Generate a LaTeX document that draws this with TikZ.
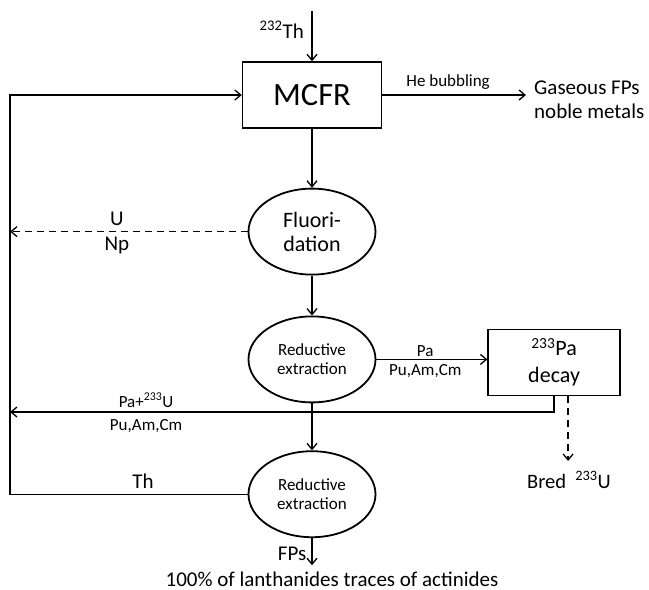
\documentclass[tikz,border=0pt]{standalone}
\usepackage{fontspec}
\setmainfont{Carlito}
\usetikzlibrary{arrows.meta,positioning,shapes.geometric}

\tikzset{
  reactor/.style={draw, rectangle, line width=1.4pt, minimum width=139pt, minimum height=66pt, inner sep=0pt, align=center},
  unit/.style={draw, ellipse, line width=1.8pt, minimum width=127pt, minimum height=86pt, inner sep=0pt, align=center},
  flow/.style={->, line width=1.3pt},
  dsh/.style={dash pattern=on 7pt off 5pt},
  lbl/.style={font=\fontsize{21}{24}\selectfont, inner sep=2pt},
  tiny/.style={font=\fontsize{17}{19}\selectfont, inner sep=2pt},
}

\begin{document}
\begin{tikzpicture}[x=1pt, y=-1pt, >={Straight Barb[length=6pt,width=10pt]}]

  \useasboundingbox (0,0) rectangle (649,590);

  \node[reactor, font=\fontsize{32.5}{38}\selectfont] at (312,95) (mcfr) {MCFR};
  \node[unit, below=59pt of mcfr, font=\fontsize{22}{24}\selectfont] (fl) {Fluori-\\dation};
  \node[unit, below=40pt of fl, font=\fontsize{17}{19.5}\selectfont] (re1) {Reductive\\extraction};
  \node[unit, below=47pt of re1, font=\fontsize{17}{19.5}\selectfont] (re2) {Reductive\\extraction};
  \node[reactor, minimum width=132pt, right=111pt of re1, yshift=-3pt, font=\fontsize{22}{27}\selectfont] (pa) {\textsuperscript{233}Pa\\decay};

  \node[lbl, anchor=base east] at (306,38) (th) {\textsuperscript{232}Th};
  \node[lbl, anchor=west, align=left] at (532,100) (gas) {Gaseous FPs\\noble metals};
  \node[lbl, font=\fontsize{20.5}{24}\selectfont, anchor=base] at (569,488) (bred) {Bred~ \textsuperscript{233}U};
  \node[lbl, anchor=base] at (332,586) (lan) {100\% of lanthanides traces of actinides};

  \coordinate (feed) at (312,11);
  \coordinate (ret) at (10,412);

  \draw[flow] (feed) -- (mcfr);
  \draw[flow, shorten >=6pt] (mcfr.east) -- (mcfr.east -| gas.west) node[tiny, pos=0.44, above, yshift=3pt] {He bubbling};
  \draw[flow] (mcfr) -- (fl);
  \draw[flow] (fl) -- (re1);
  \draw[flow] (re1) -- (re2);
  \draw[flow, shorten >=4pt] (re2) -- (re2.south |- lan.north) node[lbl, midway, left, xshift=-3pt] {FPs};

  \draw[flow] (re1.east) -- (re1.east -| pa.west) node[tiny, pos=0.44, above] {Pa} node[tiny, pos=0.44, below, yshift=-2pt] {Pu,Am,Cm};
  \draw[flow, dsh, shorten >=8pt] ([xshift=14pt]pa.south) -- ([xshift=14pt]pa.south |- bred.north);
  \draw[flow] (pa.south) |- (ret) node[tiny, pos=0.875, above, yshift=2pt] {Pa+\textsuperscript{233}U} node[tiny, pos=0.875, below, yshift=-5pt] {Pu,Am,Cm};

  \draw[flow, dsh] (fl.west) -- (fl.west -| ret) node[lbl, pos=0.55, above, yshift=3pt] {U} node[lbl, pos=0.55, below, yshift=-3pt] {Np};
  \draw[flow] (re2.west) -- (re2.west -| ret) node[lbl, pos=0.44, above, yshift=3pt] {Th} -- (mcfr.west -| ret) -- (mcfr.west);

\end{tikzpicture}
\end{document}
